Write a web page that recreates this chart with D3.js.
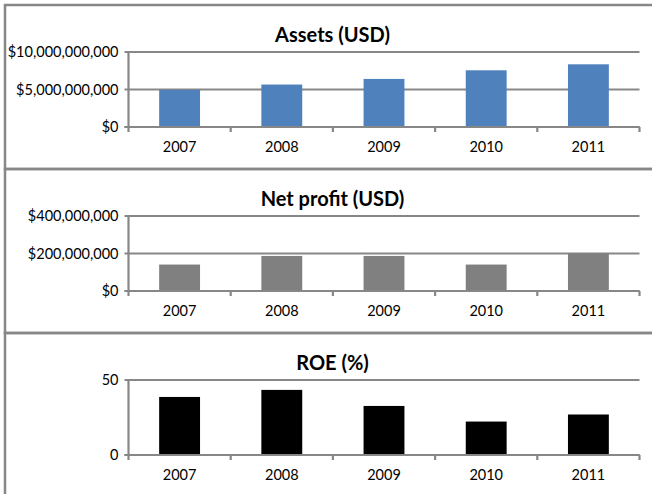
<!DOCTYPE html>
<html>
<head>
<meta charset="utf-8">
<script src="https://cdn.jsdelivr.net/npm/d3@7"></script>
<style>
  body { margin: 0; background: #fff; }
  svg { display: block; font-family: Lato, "Open Sans", sans-serif; }
  .tick-label { font-size: 14.5px; fill: #000; }
  .title { font-size: 20px; font-weight: bold; fill: #000; }
</style>
</head>
<body>
<svg id="chart" width="652" height="494"></svg>
<script>
var years = ["2007", "2008", "2009", "2010", "2011"];
var assets = [4.95e9, 5.66e9, 6.41e9, 7.56e9, 8.36e9];
var profit = [141e6, 187e6, 187e6, 141e6, 201e6];
var roe = [38.7, 43.4, 32.7, 22.3, 27.0];
var assetTicks = [0, 5e9, 10e9];
var profitTicks = [0, 200e6, 400e6];
var roeTicks = [0, 50];

var svg = d3.select("#chart"),
    grey = "#878787",
    panelTop = 5, panelStep = 164,
    left = 128.5, right = 639.5,
    plotTop = 47, plotBottom = 122;

var panels = [
  {title: "Assets (USD)", values: assets, ticks: assetTicks, fmt: d3.format("$,"), color: "#4f81bd"},
  {title: "Net profit (USD)", values: profit, ticks: profitTicks, fmt: d3.format("$,"), color: "#808080"},
  {title: "ROE (%)", values: roe, ticks: roeTicks, fmt: d3.format("d"), color: "#000000"}
];

var x = d3.scaleBand().domain(years).range([left, right])
  .paddingInner(0.6).paddingOuter(0.3);

panels.forEach(function(p, i) {
  var top = panelTop + i * panelStep,
      g = svg.append("g").attr("transform", "translate(0," + top + ")");

  // panel frame, runs off the right edge like the original
  g.append("rect")
    .attr("x", 5).attr("y", 0)
    .attr("width", 700).attr("height", i === 2 ? 300 : panelStep)
    .attr("fill", "none").attr("stroke", grey).attr("stroke-width", 2.5);

  var y = d3.scaleLinear()
    .domain([0, d3.max(p.ticks)])
    .range([plotBottom, plotTop]);

  g.append("text").attr("class", "title")
    .attr("x", 332.5).attr("y", 36.5)
    .attr("text-anchor", "middle")
    .text(p.title);

  // gridlines
  g.selectAll("line.grid").data(p.ticks).enter().append("line")
    .attr("x1", left - 4).attr("x2", right)
    .attr("y1", y).attr("y2", y)
    .attr("stroke", grey).attr("stroke-width", 2.2);

  g.selectAll("text.ylab").data(p.ticks).enter().append("text")
    .attr("class", "tick-label")
    .attr("x", left - 10).attr("y", y).attr("dy", "0.35em")
    .attr("text-anchor", "end")
    .text(p.fmt);

  // bars
  g.selectAll("rect.bar").data(p.values).enter().append("rect")
    .attr("x", (d, j) => x(years[j]))
    .attr("width", x.bandwidth())
    .attr("y", y)
    .attr("height", d => y(0) - y(d))
    .attr("fill", p.color);

  // axes
  g.append("line")
    .attr("x1", left).attr("x2", left)
    .attr("y1", y(d3.max(p.ticks))).attr("y2", y(0))
    .attr("stroke", grey).attr("stroke-width", 2.2);
  g.append("line")
    .attr("x1", left - 4).attr("x2", right)
    .attr("y1", y(0)).attr("y2", y(0))
    .attr("stroke", grey).attr("stroke-width", 2.2);

  var bounds = d3.range(years.length + 1).map(k => left + k * x.step());
  g.selectAll("line.xtick").data(bounds).enter().append("line")
    .attr("x1", d => d).attr("x2", d => d)
    .attr("y1", y(0)).attr("y2", y(0) + 5)
    .attr("stroke", grey).attr("stroke-width", 2.2);

  g.selectAll("text.xlab").data(years).enter().append("text")
    .attr("class", "tick-label")
    .attr("x", d => x(d) + x.bandwidth() / 2)
    .attr("y", plotBottom + 24.5)
    .attr("text-anchor", "middle")
    .text(d => d);
});
</script>
</body>
</html>
